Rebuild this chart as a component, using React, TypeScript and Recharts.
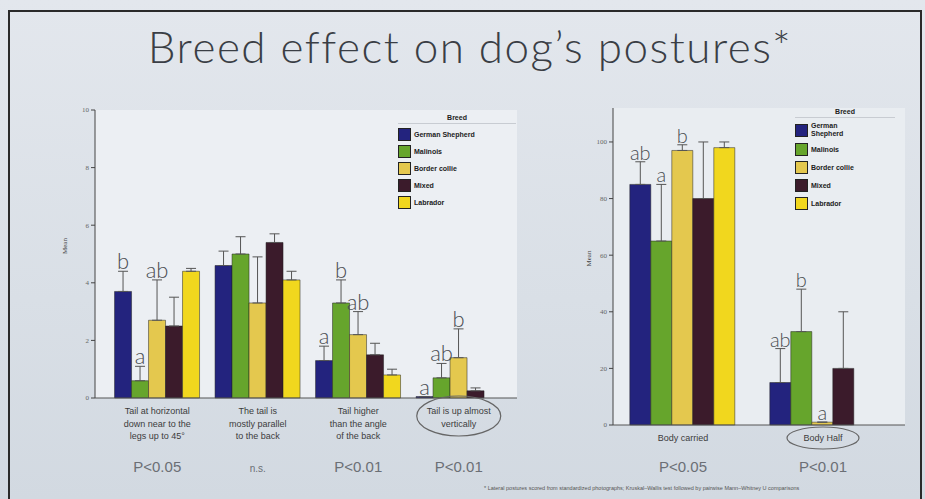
import React from 'react';
import { BarChart, Bar, XAxis, YAxis, CartesianGrid, Legend, ErrorBar, LabelList } from 'recharts';

const breeds = ['German Shepherd', 'Malinois', 'Border collie', 'Mixed', 'Labrador'];
const breedColors = ['#23237e', '#66a52c', '#e4c84e', '#3b1b2b', '#f1d71e'];

// left panel: tail postures (mean scores)
const tailCategories = ['Tail horizontal to 45° down', 'Tail parallel to the back', 'Tail higher than the back', 'Tail up almost vertically'];
const tailLabelLines = [
  ['Tail at horizontal', 'down near to the', 'legs up to 45°'],
  ['The tail is', 'mostly parallel', 'to the back'],
  ['Tail higher', 'than the angle', 'of the back'],
  ['Tail is up almost', 'vertically'],
];
const tailPValues = ['P<0.05', 'n.s.', 'P<0.01', 'P<0.01'];
const tailCircled = [false, false, false, true];
const tailValues = [
  [3.7, 4.6, 1.3, 0.05], // German Shepherd
  [0.6, 5.0, 3.3, 0.7], // Malinois
  [2.7, 3.3, 2.2, 1.4], // Border collie
  [2.5, 5.4, 1.5, 0.25], // Mixed
  [4.4, 4.1, 0.8, 0], // Labrador
];
const tailErrors = [
  [0.7, 0.5, 0.5, 0],
  [0.5, 0.6, 0.8, 0.5],
  [1.4, 1.6, 0.8, 1.0],
  [1.0, 0.3, 0.4, 0.1],
  [0.1, 0.3, 0.2, 0],
];
const tailLetters = [
  ['b', '', 'a', 'a'],
  ['a', '', 'b', 'ab'],
  ['ab', '', 'ab', 'b'],
  ['', '', '', ''],
  ['', '', '', ''],
];

// right panel: body postures (percent)
const bodyCategories = ['Body carried', 'Body Half'];
const bodyLabelLines = [['Body carried'], ['Body Half']];
const bodyPValues = ['P<0.05', 'P<0.01'];
const bodyCircled = [false, true];
const bodyValues = [
  [85, 15],
  [65, 33],
  [97, 1],
  [80, 20],
  [98, 0],
];
const bodyErrors = [
  [8, 12],
  [20, 15],
  [2, 0],
  [20, 20],
  [2, 0],
];
const bodyLetters = [
  ['ab', 'ab'],
  ['a', 'b'],
  ['b', 'a'],
  ['', ''],
  ['', ''],
];

const tailTicks = [0, 2, 4, 6, 8, 10];
const bodyTicks = [0, 20, 40, 60, 80, 100];

const buildRows = (cats: string[], vals: number[][], errs: number[][], letters: string[][]) =>
  cats.map((c, i) => {
    const row: any = { category: c };
    breeds.forEach((_b, k) => {
      row['v' + k] = vals[k][i];
      row['e' + k] = [0, errs[k][i]];
      row['l' + k] = letters[k][i];
    });
    return row;
  });

const tailRows = buildRows(tailCategories, tailValues, tailErrors, tailLetters);
const bodyRows = buildRows(bodyCategories, bodyValues, bodyErrors, bodyLetters);

const makeTick = (lines: string[][], pvals: string[], circled: boolean[], pY: number, ell: { dy: number; rx: number; ry: number }) =>
  (props: any) => {
    const { x, y, index } = props;
    const ls = lines[index] || [];
    return (
      <g>
        {ls.map((t, i) => (
          <text key={i} x={x} y={y + 8 + i * 12.5} textAnchor="middle" fontSize={9} fill="#3c3c3c" fontFamily="Liberation Sans">
            {t}
          </text>
        ))}
        {circled[index] && <ellipse cx={x} cy={y + ell.dy} rx={ell.rx} ry={ell.ry} fill="none" stroke="#666" strokeWidth={1.2} />}
        <text x={x} y={y + pY} textAnchor="middle" fontSize={pvals[index] === 'n.s.' ? 10 : 15} fill="#6b6f75" fontFamily="Liberation Sans">
          {pvals[index]}
        </text>
      </g>
    );
  };

const makeLetter = (k: number, rows: any[], plotTop: number, domainMax: number, size: number) => (props: any) => {
  const { x, y, width, height, index } = props;
  const letter = rows[index]['l' + k];
  if (!letter) return null;
  const base = y + height;
  const scale = (base - plotTop) / domainMax;
  const top = base - (rows[index]['v' + k] + rows[index]['e' + k][1]) * scale;
  return (
    <text x={x + width / 2} y={top - 2} textAnchor="middle" fontSize={size} fill="#4a4d52" fontFamily="Lato" fontWeight={300}>
      {letter}
    </text>
  );
};

const makeLegend = (rowGap: number, textWidth: number) => (props: any) => {
  const items = [...(props.payload || [])].sort((a: any, b: any) => breeds.indexOf(a.value) - breeds.indexOf(b.value));
  return (
    <div style={{ fontFamily: 'Liberation Sans', fontSize: 7, color: '#222' }}>
      <div style={{ textAlign: 'center', fontWeight: 'bold', marginBottom: 4, borderBottom: '1px solid #c8ccd2', paddingBottom: 2 }}>Breed</div>
      {items.map((p: any) => (
        <div key={p.value} style={{ display: 'flex', alignItems: 'center', marginBottom: rowGap }}>
          <span style={{ width: 11, height: 11, background: p.color, border: '0.5px solid #222', marginRight: 3, flexShrink: 0 }} />
          <span style={{ width: textWidth, lineHeight: '8px', fontWeight: 'bold', color: '#222' }}>{p.value}</span>
        </div>
      ))}
    </div>
  );
};

const App = () => (
  <div
    style={{
      position: 'fixed',
      left: 0,
      top: 0,
      width: 925,
      height: 499,
      overflow: 'hidden',
      background: 'linear-gradient(180deg, #e3e7ed 0%, #d9dfe6 60%, #d2d9e1 100%)',
    }}
  >
    <div style={{ position: 'absolute', left: 8, top: 10, width: 910, height: 500, border: '2px solid #2a2a2a' }} />
    <div
      style={{
        position: 'absolute',
        left: 0,
        top: 20,
        width: 940,
        textAlign: 'center',
        fontFamily: 'Lato',
        fontWeight: 300,
        fontSize: 44,
        letterSpacing: 1.5,
        color: '#3a3e45',
      }}
    >
      Breed effect on dog’s postures*
    </div>

    <div style={{ position: 'absolute', left: 0, top: 0 }}>
      <BarChart width={525} height={499} data={tailRows} margin={{ top: 110, right: 8, left: 65, bottom: 11 }} barGap={0} barCategoryGap="7.5%">
        <CartesianGrid fill="#eceff3" horizontal={false} vertical={false} />
        <XAxis
          dataKey="category"
          height={90}
          padding={{ left: 12, right: 8 }}
          tickLine={false}
          axisLine={{ stroke: '#555' }}
          interval={0}
          tick={makeTick(tailLabelLines, tailPValues, tailCircled, 66, { dy: 10, rx: 42, ry: 20 })}
        />
        <XAxis xAxisId="top" orientation="top" height={0} tick={false} tickLine={false} axisLine={{ stroke: '#333', strokeWidth: 1.5 }} />
        <YAxis
          domain={[0, 10]}
          ticks={tailTicks}
          width={30}
          tick={{ fontSize: 7, fill: '#666' }}
          tickSize={4}
          axisLine={{ stroke: '#444' }}
          tickLine={{ stroke: '#444' }}
          label={{ value: 'Mean', angle: -90, position: 'insideLeft', offset: 0, fontSize: 7, fill: '#444' }}
        />
        <YAxis yAxisId="right" orientation="right" width={0} tick={false} tickLine={false} axisLine={{ stroke: '#b8bec6' }} />
        <Legend
          layout="horizontal"
          verticalAlign="middle"
          wrapperStyle={{ top: 114, left: 398, width: 118 }}
          content={makeLegend(4, 100)}
        />
        {breeds.map((b, k) => (
          <Bar key={b} dataKey={'v' + k} name={b} fill={breedColors[k]} stroke="#222" strokeWidth={0.5} isAnimationActive={false}>
            <ErrorBar dataKey={'e' + k} width={5} stroke="#555" strokeWidth={1} direction="y" />
            <LabelList dataKey={'l' + k} content={makeLetter(k, tailRows, 110, 10, 22)} />
          </Bar>
        ))}
      </BarChart>
    </div>

    <div style={{ position: 'absolute', left: 530, top: 0 }}>
      <BarChart width={395} height={499} data={bodyRows} margin={{ top: 108, right: 20, left: 53, bottom: 14 }} barGap={0} barCategoryGap="12%">
        <CartesianGrid fill="#e9edf1" horizontal={false} vertical={false} />
        <XAxis
          dataKey="category"
          height={60}
          padding={{ left: 0, right: 12 }}
          tickLine={false}
          axisLine={{ stroke: '#555' }}
          interval={0}
          tick={makeTick(bodyLabelLines, bodyPValues, bodyCircled, 39, { dy: 5, rx: 36, ry: 11 })}
        />
        <XAxis xAxisId="top" orientation="top" height={0} tick={false} tickLine={false} axisLine={{ stroke: '#333', strokeWidth: 1.5 }} />
        <YAxis
          domain={[0, 112]}
          ticks={bodyTicks}
          width={30}
          tick={{ fontSize: 7, fill: '#666' }}
          tickSize={4}
          axisLine={{ stroke: '#444' }}
          tickLine={{ stroke: '#444' }}
          label={{ value: 'Mean', angle: -90, position: 'insideLeft', offset: 6, fontSize: 7, fill: '#444' }}
        />
        <YAxis yAxisId="right" orientation="right" width={0} tick={false} tickLine={false} axisLine={{ stroke: '#b8bec6' }} />
        <Legend
          layout="horizontal"
          verticalAlign="middle"
          wrapperStyle={{ top: 108, left: 265, width: 100 }}
          content={makeLegend(5, 45)}
        />
        {breeds.map((b, k) => (
          <Bar key={b} dataKey={'v' + k} name={b} fill={breedColors[k]} stroke="#222" strokeWidth={0.5} isAnimationActive={false}>
            <ErrorBar dataKey={'e' + k} width={5} stroke="#555" strokeWidth={1} direction="y" />
            <LabelList dataKey={'l' + k} content={makeLetter(k, bodyRows, 108, 112, 20)} />
          </Bar>
        ))}
      </BarChart>
    </div>

    <div
      style={{
        position: 'absolute',
        left: 484,
        top: 485,
        fontFamily: 'Liberation Sans',
        fontSize: 5.5,
        color: '#555',
        whiteSpace: 'nowrap',
      }}
    >
      * Lateral postures scored from standardized photographs; Kruskal–Wallis test followed by pairwise Mann–Whitney U comparisons
    </div>
  </div>
);

export default App;
